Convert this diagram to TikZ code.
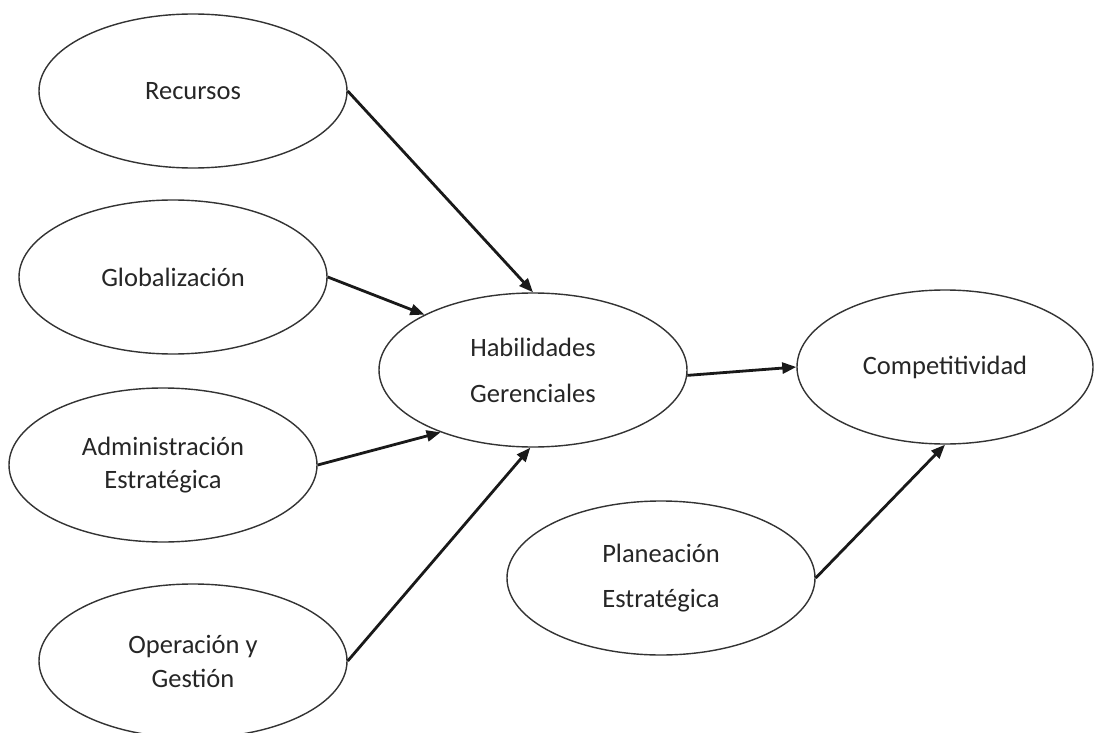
\documentclass[tikz,border=0pt]{standalone}
\usepackage{fontspec}
\setmainfont{Carlito}
\usetikzlibrary{shapes.geometric,arrows.meta}
\tikzset{
  bubble/.style={ellipse, draw=black!80, line width=1.4pt, minimum width=308pt, minimum height=154pt, inner sep=0pt, align=center, text=black!85, font=\fontsize{26.5}{30}\selectfont},
  link/.style={-{Triangle[length=14pt,width=11pt]}, line width=2.8pt, black!90}
}
\begin{document}
\begin{tikzpicture}[x=1pt,y=-1pt]
\useasboundingbox[fill=white] (0,0) rectangle (1095,733);
\node[bubble] (rec) at (193,91) {Recursos};
\node[bubble] (glob) at (173,277) {Globalización};
\node[bubble] (adm) at (163,465) {Administración\\[3pt]Estratégica};
\node[bubble] (op) at (193,661) {Operación y\\[4pt]Gestión};
\node[bubble] (hab) at (533,370) {Habilidades\\[16pt]Gerenciales};
\node[bubble, minimum width=296pt] (comp) at (945,367) {Competitividad};
\node[bubble] (plan) at (661,578) {Planeación\\[15pt]Estratégica};
\draw[link] (rec.east) -- (hab.north);
\draw[link] (glob.east) -- (hab.153);
\draw[link] (adm.east) -- (hab.214);
\draw[link] (op.east) -- (hab.268);
\draw[link] (hab.-2) -- (comp.west);
\draw[link] (plan.east) -- (comp.south);
\end{tikzpicture}
\end{document}
